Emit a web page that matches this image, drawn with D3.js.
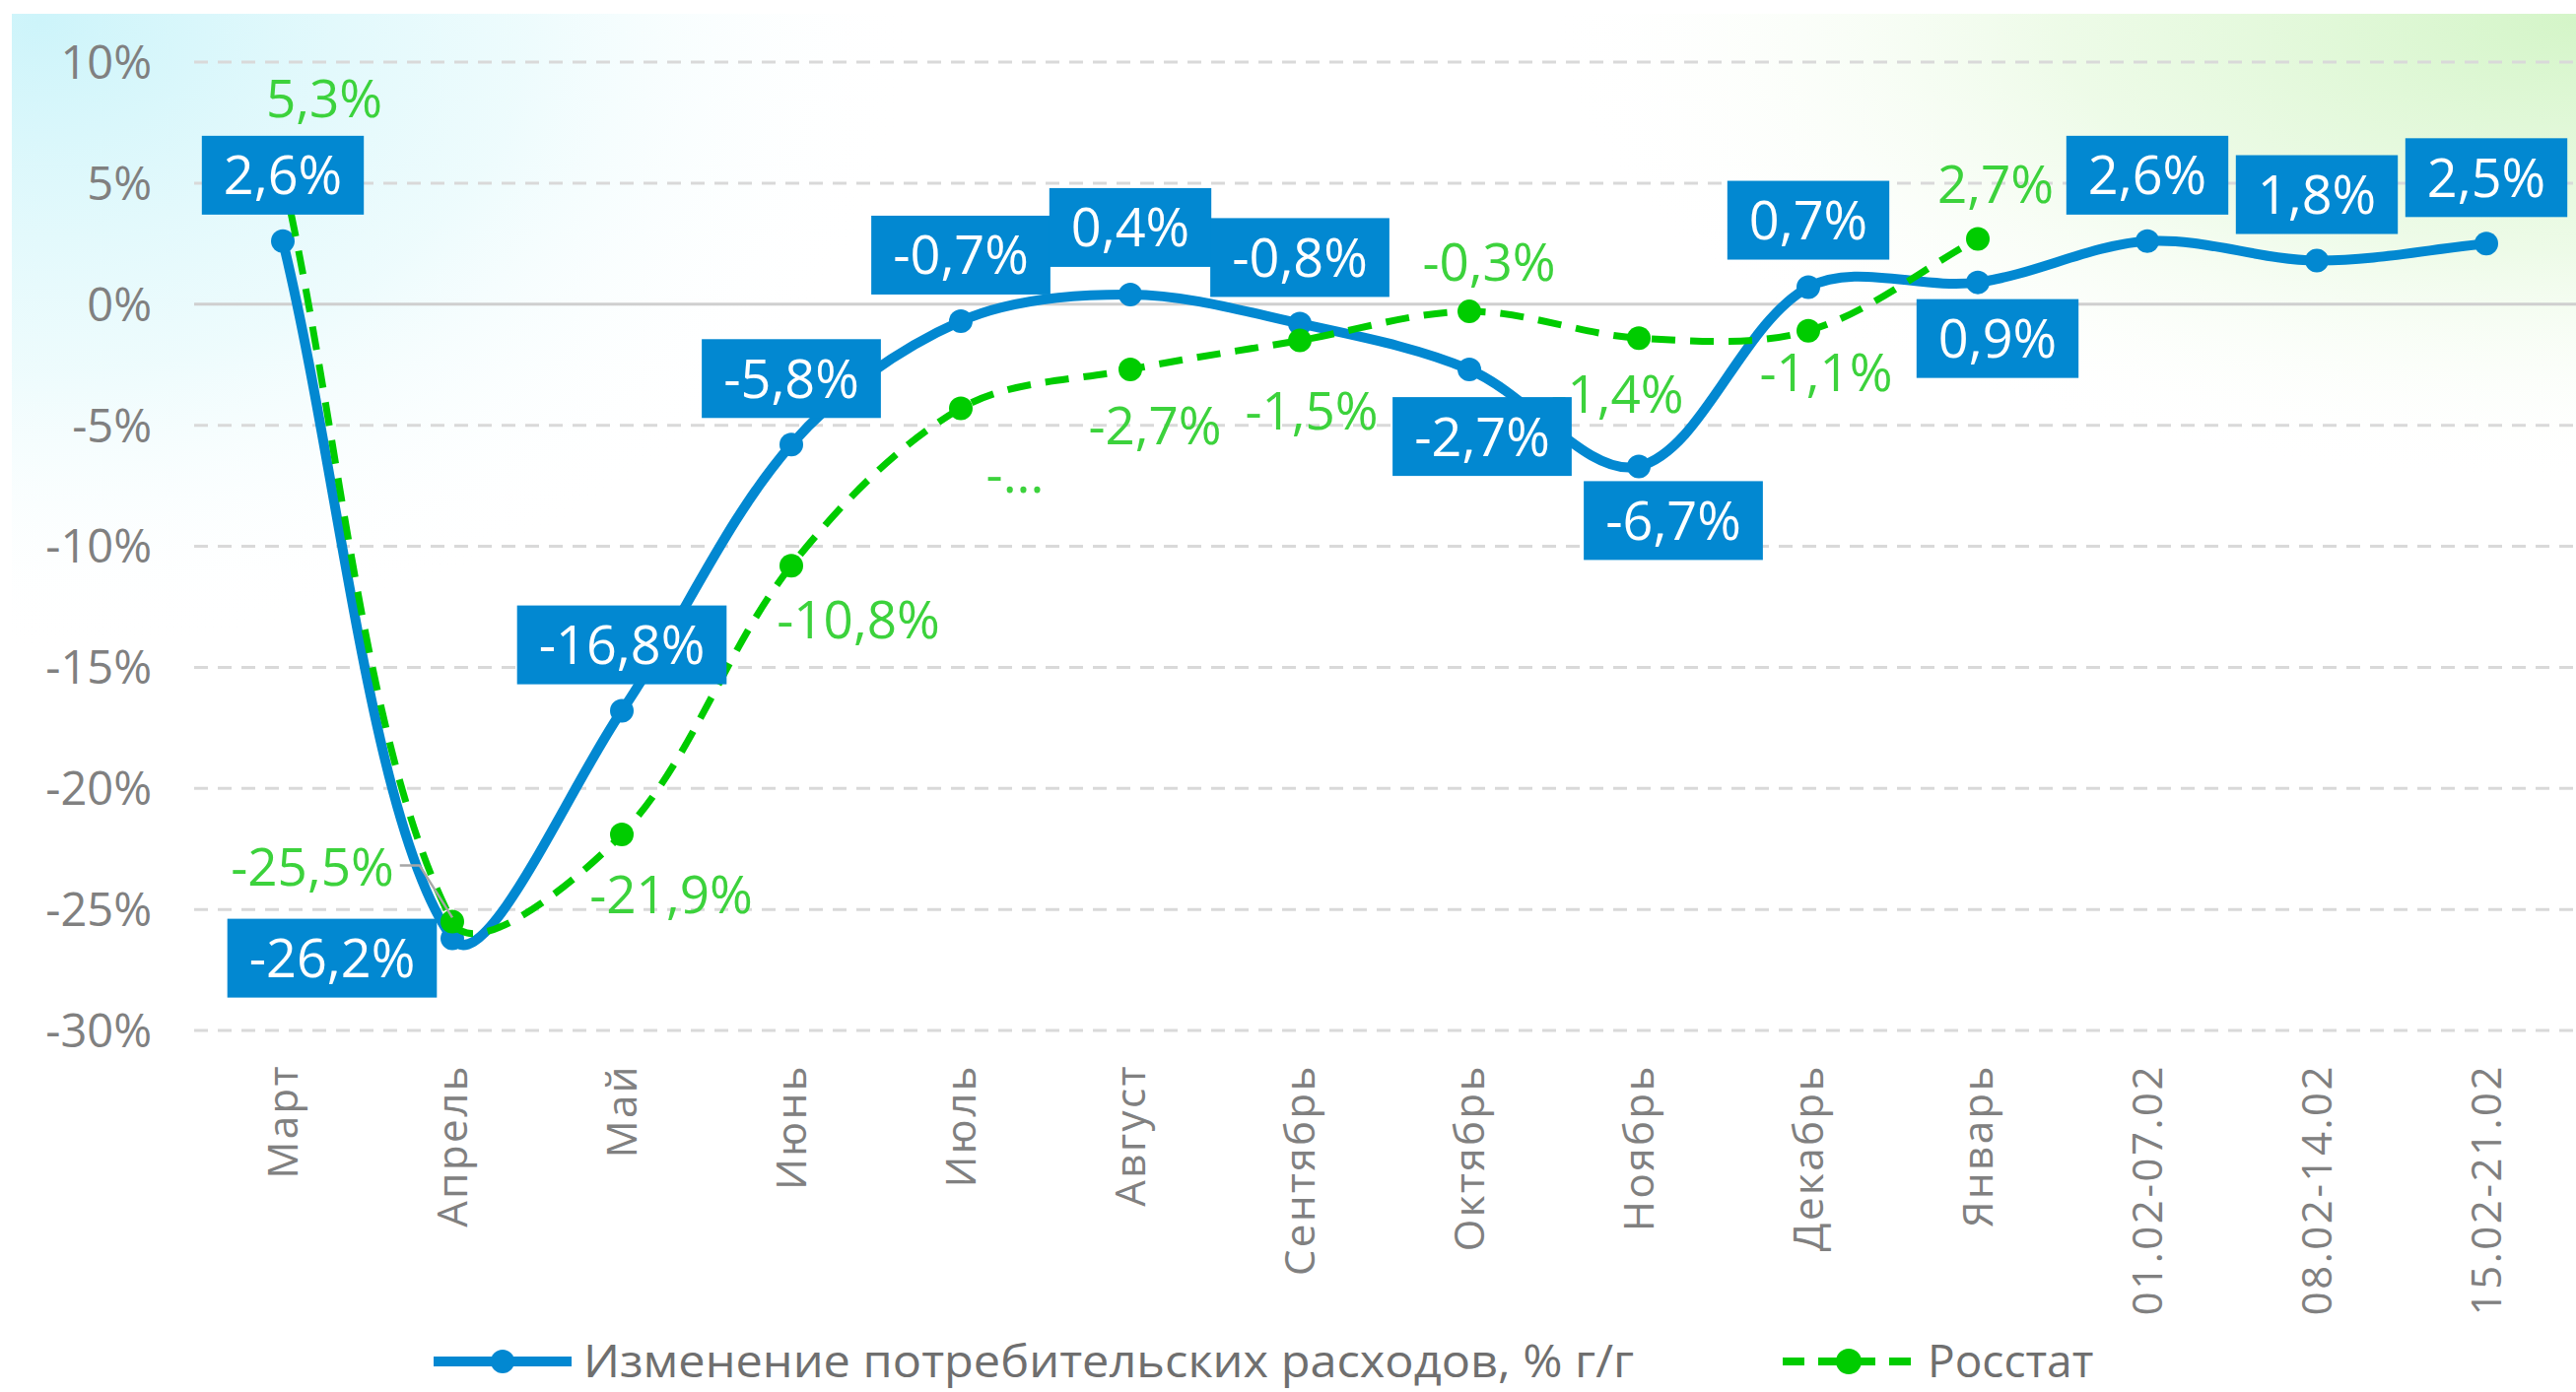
<!DOCTYPE html>
<html><head><meta charset="utf-8">
<script src="https://cdn.jsdelivr.net/npm/d3@7"></script>
<style>html,body{margin:0;padding:0;background:#fff;overflow:hidden}</style>
</head><body><svg id="c" width="2614" height="1413"></svg>
<script>
// ---------- data ----------
const categories = ["Март","Апрель","Май","Июнь","Июль","Август","Сентябрь","Октябрь","Ноябрь","Декабрь","Январь","01.02-07.02","08.02-14.02","15.02-21.02"];
const spending = [2.6,-26.2,-16.8,-5.8,-0.7,0.4,-0.8,-2.7,-6.7,0.7,0.9,2.6,1.8,2.5];
const rosstat = [5.3,-25.5,-21.9,-10.8,-4.3,-2.7,-1.5,-0.3,-1.4,-1.1,2.7,null,null,null];
const rosstatLabelOverride = [null,null,null,null,"-...",null,null,null,null,null,null,null,null,null];
const yTicks = [10,5,0,-5,-10,-15,-20,-25,-30];
const seriesNames = ["Изменение потребительских расходов, % г/г","Росстат"];

// ---------- layout (label placement, px) ----------
const blueLabelOffset = [[0,-67],[-122,20],[0,-67],[0,-67],[0,-67],[0,-68],[0,-67],[13,68],[35,55],[0,-68],[20,57],[0,-67],[0,-67],[0,-67]];
const greenLabelOffset = [[42,-78],[-142,-55],[50,62],[68,55],[55,67],[25,57],[12,72],[20,-50],[-22,57],[18,43],[18,-55]];

const W = 2614, H = 1413;
const FONT = "'Open Sans', 'Noto Sans', sans-serif";
const BLUE = "#0288D1", GREEN = "#00CC00", GREEN_TXT = "#3cd23c", GRAY_TXT = "#808080";

// Excel-like smoothing curve (segment-length weighted Bezier)
function ExcelSmooth(ctx){ this._context = ctx; }
ExcelSmooth.prototype = {
  areaStart(){}, areaEnd(){},
  lineStart(){ this._pts = []; },
  point(px,py){ this._pts.push([+px,+py]); },
  lineEnd(){
    const p = this._pts, c = this._context, n = p.length;
    if (!n) return;
    const dist = (a,b)=>Math.hypot(b[0]-a[0], b[1]-a[1]);
    c.moveTo(p[0][0], p[0][1]);
    const t = 1/3;
    for (let i=0;i<n-1;i++){
      const p0 = p[i-1]||p[i], p1 = p[i], p2 = p[i+1], p3 = p[i+2]||p[i+1];
      const d01 = dist(p0,p1), d12 = dist(p1,p2), d23 = dist(p2,p3);
      const f1 = (d01+d12)>0 ? d12/(d01+d12) : 0;
      const f2 = (d12+d23)>0 ? d12/(d12+d23) : 0;
      const c1 = [p1[0]+(p2[0]-p0[0])*f1*t, p1[1]+(p2[1]-p0[1])*f1*t];
      const c2 = [p2[0]-(p3[0]-p1[0])*f2*t, p2[1]-(p3[1]-p1[1])*f2*t];
      c.bezierCurveTo(c1[0],c1[1],c2[0],c2[1],p2[0],p2[1]);
    }
  }
};
const excelCurve = ctx => new ExcelSmooth(ctx);

const svg = d3.select("#c");
const defs = svg.append("defs");
const g1 = defs.append("radialGradient").attr("id","bgCyan").attr("gradientUnits","userSpaceOnUse")
  .attr("cx",40).attr("cy",20).attr("r",900).attr("gradientTransform","translate(40,20) scale(1,0.72) translate(-40,-20)");
g1.append("stop").attr("offset",0).attr("stop-color","#cdf4fa").attr("stop-opacity",1);
g1.append("stop").attr("offset",0.55).attr("stop-color","#e6fafc").attr("stop-opacity",0.7);
g1.append("stop").attr("offset",1).attr("stop-color","#ffffff").attr("stop-opacity",0);
const g2 = defs.append("radialGradient").attr("id","bgGreen").attr("gradientUnits","userSpaceOnUse")
  .attr("cx",2614).attr("cy",20).attr("r",1050).attr("gradientTransform","translate(2614,20) scale(1,0.45) translate(-2614,-20)");
g2.append("stop").attr("offset",0).attr("stop-color","#d4f5c8").attr("stop-opacity",1);
g2.append("stop").attr("offset",0.5).attr("stop-color","#e9fae2").attr("stop-opacity",0.8);
g2.append("stop").attr("offset",1).attr("stop-color","#ffffff").attr("stop-opacity",0);

svg.append("rect").attr("width",W).attr("height",H).attr("fill","#fff");
svg.append("rect").attr("x",12).attr("y",14).attr("width",W-12).attr("height",1300).attr("fill","url(#bgCyan)");
svg.append("rect").attr("x",12).attr("y",14).attr("width",W-12).attr("height",1300).attr("fill","url(#bgGreen)");

const x = d3.scalePoint().domain(categories).range([201, 2609]).padding(0.5);
const y = d3.scaleLinear().domain([-30, 10]).range([1046, 63]);

// grid
svg.append("g").selectAll("line").data(yTicks).join("line")
  .attr("x1",197).attr("x2",W).attr("y1",d=>y(d)).attr("y2",d=>y(d))
  .attr("stroke", d=> d===0 ? "#cfcfcf" : "#d9d9d9")
  .attr("stroke-width",3)
  .attr("stroke-dasharray", d=> d===0 ? null : "14 10");

// y axis labels
const yAxis = d3.axisLeft(y).tickValues(yTicks).tickFormat(d=>d+"%").tickSize(0).tickPadding(0);
const ya = svg.append("g").attr("transform","translate(154,0)").call(yAxis);
ya.select(".domain").remove();
ya.selectAll("text").attr("font-family",FONT).attr("font-size",47).attr("fill",GRAY_TXT).attr("dy","0.35em");

// x axis labels
const xAxis = d3.axisBottom(x).tickSize(0).tickPadding(0);
const xa = svg.append("g").attr("transform","translate(0,1080)").call(xAxis);
xa.select(".domain").remove();
xa.selectAll("text").attr("font-family",FONT).attr("font-size",42).attr("fill",GRAY_TXT)
  .attr("letter-spacing",2.5)
  .attr("transform","rotate(-90)").attr("text-anchor","end").attr("x",0).attr("y",0).attr("dy","0.35em");

const idx = d3.range(categories.length);

// blue series
const lineB = d3.line().x(i=>x(categories[i])).y(i=>y(spending[i])).curve(excelCurve);
svg.append("path").attr("d",lineB(idx)).attr("fill","none").attr("stroke",BLUE).attr("stroke-width",10).attr("stroke-linejoin","round");
svg.append("g").selectAll("circle").data(idx).join("circle")
  .attr("cx",i=>x(categories[i])).attr("cy",i=>y(spending[i])).attr("r",12).attr("fill",BLUE);

// green series
const gIdx = idx.filter(i=>rosstat[i]!=null);
const lineG = d3.line().x(i=>x(categories[i])).y(i=>y(rosstat[i])).curve(excelCurve);
svg.append("path").attr("d",lineG(gIdx)).attr("fill","none").attr("stroke",GREEN).attr("stroke-width",7).attr("stroke-dasharray","24 15");
svg.append("g").selectAll("circle").data(gIdx).join("circle")
  .attr("cx",i=>x(categories[i])).attr("cy",i=>y(rosstat[i])).attr("r",12).attr("fill",GREEN);

const fmt = v => d3.format(".1f")(v).replace(".",",").replace("−","-") + "%";

// green labels
const gl = svg.append("g");
gIdx.forEach(i=>{
  const px = x(categories[i]), py = y(rosstat[i]);
  const [dx,dy] = greenLabelOffset[i];
  const txt = rosstatLabelOverride[i] || fmt(rosstat[i]);
  const t = gl.append("text").attr("x",px+dx).attr("y",py+dy).attr("text-anchor","middle").attr("dy","0.35em")
    .attr("font-family",FONT).attr("font-size",53).attr("fill",GREEN_TXT).text(txt);
  if (i===1) {
    const w = t.node().getComputedTextLength();
    const sx = px+dx+w/2+6, sy = py+dy-2;
    gl.append("polyline").attr("points",`${sx},${sy} ${sx+20},${sy} ${px},${py-4}`)
      .attr("fill","none").attr("stroke","#a6a6a6").attr("stroke-width",2.5);
  }
});

// blue labels
const bl = svg.append("g");
idx.forEach(i=>{
  const px = x(categories[i]), py = y(spending[i]);
  const [dx,dy] = blueLabelOffset[i];
  const gg = bl.append("g").attr("transform",`translate(${px+dx},${py+dy})`);
  const t = gg.append("text").attr("text-anchor","middle").attr("dy","0.36em")
    .attr("font-family",FONT).attr("font-size",54).attr("fill","#fff").text(fmt(spending[i]));
  const w = t.node().getComputedTextLength();
  gg.insert("rect","text").attr("x",-w/2-22).attr("y",-40).attr("width",w+44).attr("height",80).attr("fill",BLUE);
});

// legend
const lg = svg.append("g").attr("transform","translate(0,1382)");
lg.append("line").attr("x1",440).attr("x2",580).attr("stroke",BLUE).attr("stroke-width",10);
lg.append("circle").attr("cx",510).attr("r",12).attr("fill",BLUE);
lg.append("text").attr("x",592).attr("dy","0.35em").attr("font-family",FONT).attr("font-size",46).attr("fill","#6f6f6f")
  .attr("textLength",1066).attr("lengthAdjust","spacingAndGlyphs").text(seriesNames[0]);
lg.append("line").attr("x1",1809).attr("x2",1942).attr("stroke",GREEN).attr("stroke-width",8).attr("stroke-dasharray","22 14");
lg.append("circle").attr("cx",1876).attr("r",13).attr("fill",GREEN);
lg.append("text").attr("x",1956).attr("dy","0.35em").attr("font-family",FONT).attr("font-size",46).attr("fill","#6f6f6f").text(seriesNames[1]);
</script></body></html>
